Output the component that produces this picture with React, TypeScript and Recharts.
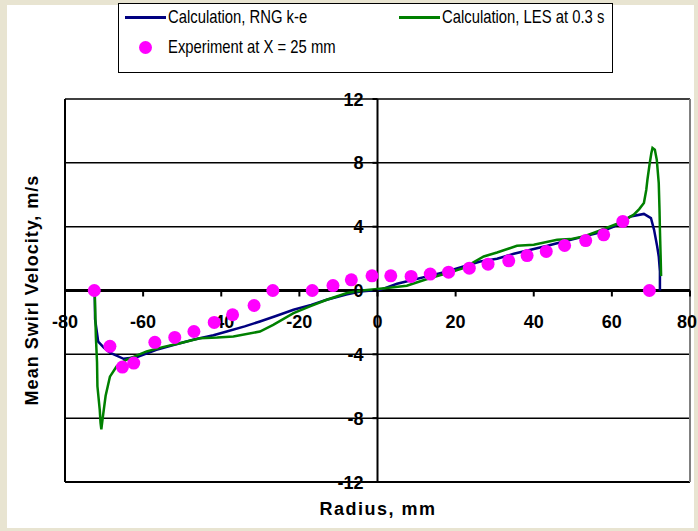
import React from 'react';
import { ComposedChart, Line, Scatter, XAxis, YAxis, ReferenceLine, ReferenceDot } from 'recharts';

// Calculation, RNG k-e
const rngRadius = [-72.4, -72.3, -71.5, -70, -68.5, -65, -61.7, -56.6, -52, -47.2, -42, -38.6, -34, -30.1, -26, -21.5, -17, -13, -8, -4.4, 0.7, 5, 9.2, 13.5, 17.8, 22, 26.3, 30.6, 34.9, 39.2, 43.5, 47.7, 52, 56.3, 60.5, 64.8, 68.2, 70, 70.8, 71.6, 72, 72.3, 72.3];
const rngVelocity = [0, -1.8, -3.2, -3.6, -3.9, -4.28, -4.18, -3.72, -3.4, -3.09, -2.8, -2.57, -2.25, -1.94, -1.6, -1.21, -0.9, -0.58, -0.25, -0.06, 0.04, 0.42, 0.67, 0.93, 1.19, 1.5, 1.82, 1.99, 2.3, 2.55, 2.8, 3.07, 3.33, 3.6, 4.01, 4.64, 4.8, 4.54, 3.8, 2.76, 2.13, 1.2, 0];

// Calculation, LES at 0.3 s
const lesRadius = [-72.4, -72.1, -71.8, -71.7, -71.1, -70.9, -70.7, -70.3, -69.6, -68.5, -66.8, -64.3, -59.1, -55, -50.6, -45.5, -41, -36.9, -30.1, -26.7, -21.5, -17.3, -13, -7.8, -4, 0, 5.8, 7.5, 10, 13.5, 18, 22, 27.2, 30.6, 35.7, 40, 46, 49.4, 53, 56.3, 62.2, 65.6, 67, 68.2, 68.8, 69.1, 69.7, 70.1, 70.4, 71, 71.5, 72, 72.2, 72.3, 72.5, 72.6];
const lesVelocity = [0, -2.9, -4.5, -6.0, -7.5, -8.3, -8.7, -7.9, -6.6, -5.4, -4.76, -4.34, -3.82, -3.55, -3.3, -2.99, -2.95, -2.88, -2.57, -2.15, -1.42, -1.0, -0.58, -0.16, 0, 0.1, 0.25, 0.3, 0.5, 0.78, 1.1, 1.4, 2.13, 2.38, 2.8, 2.87, 3.18, 3.22, 3.4, 3.7, 4.26, 4.75, 5.1, 5.48, 6.3, 6.94, 7.99, 8.6, 8.93, 8.82, 8.19, 6.73, 5, 3.8, 2, 0.9];

// Experiment at X = 25 mm
const expRadius = [-72.5, -68.5, -65.3, -62.4, -57, -51.9, -47, -41.8, -37.1, -31.6, -26.8, -16.7, -11.4, -6.7, -1.4, 3.4, 8.6, 13.5, 18.2, 23.5, 28.3, 33.6, 38.3, 43.2, 47.9, 53.3, 57.9, 62.8, 69.6];
const expVelocity = [0, -3.5, -4.8, -4.55, -3.25, -2.94, -2.57, -2.0, -1.52, -0.94, 0, 0, 0.31, 0.67, 0.92, 0.92, 0.88, 1.03, 1.15, 1.4, 1.65, 1.86, 2.19, 2.45, 2.82, 3.13, 3.49, 4.33, 0];

const xTicks = [-80, -60, -40, -20, 0, 20, 40, 60, 80];
const yTicks = [-12, -8, -4, 0, 4, 8, 12];
const gridValues = [-8, -4, 4, 8, 12];

const rngData = rngRadius.map((r, i) => ({ r, v: rngVelocity[i] }));
const lesData = lesRadius.map((r, i) => ({ r, v: lesVelocity[i] }));
const expData = expRadius.map((r, i) => ({ r, v: expVelocity[i] }));

const FONT = '"Liberation Sans", Arial, Helvetica, sans-serif';
const BLUE = '#000080';
const GREEN = '#008000';
const MAGENTA = '#FF00FF';

const xTickShape = (label: number, last: boolean) => (props: any) => {
  const { cx, cy } = props;
  return (
    <g>
      <line x1={cx} y1={cy} x2={cx} y2={cy + 6} stroke="#000" strokeWidth={2} />
      <text
        x={last ? cx + 7 : cx}
        y={cy + 37}
        textAnchor={last ? 'end' : 'middle'}
        fontFamily={FONT}
        fontWeight="bold"
        fontSize={18}
        fill="#000"
      >
        {label}
      </text>
    </g>
  );
};

const yTickShape = (label: number) => (props: any) => {
  const { cx, cy } = props;
  return (
    <g>
      <line x1={cx - 5} y1={cy} x2={cx} y2={cy} stroke="#000" strokeWidth={2} />
      <text x={cx - 14} y={cy + 6.5} textAnchor="end" fontFamily={FONT} fontWeight="bold" fontSize={18} fill="#000">
        {label}
      </text>
    </g>
  );
};

const dotShape = (props: any) => <circle cx={props.cx} cy={props.cy} r={6.5} fill={MAGENTA} />;

const legendText: React.CSSProperties = {
  position: 'absolute',
  lineHeight: '22px',
  whiteSpace: 'nowrap',
  transform: 'scaleX(0.78)',
  transformOrigin: 'left center',
};

export default function App() {
  return (
    <div style={{ position: 'absolute', left: 0, top: 0, width: 698, height: 531, background: '#e8e4d1', overflow: 'hidden' }}>
      <div style={{ position: 'absolute', left: 7, top: 5, width: 687, height: 523, background: '#ffffff' }} />
      <div style={{ position: 'absolute', left: 0, top: 0 }}>
        <ComposedChart width={698} height={531} margin={{ top: 99, right: 8, bottom: 49, left: 65 }}>
          <XAxis dataKey="r" type="number" domain={[-80, 80]} ticks={xTicks} hide allowDataOverflow />
          <YAxis type="number" domain={[-12, 12]} ticks={yTicks} hide allowDataOverflow />
          {gridValues.map((v) => (
            <ReferenceLine key={'g' + v} y={v} stroke="#000" strokeWidth={1.5} />
          ))}
          <ReferenceLine y={-12} stroke="#000" strokeWidth={2} />
          <ReferenceLine x={-80} stroke="#000" strokeWidth={2} />
          <ReferenceLine x={80} stroke="#808080" strokeWidth={2} />
          <ReferenceLine x={0} stroke="#000" strokeWidth={2} />
          <ReferenceLine y={0} stroke="#000" strokeWidth={3} />
          {xTicks.map((v, i) => (
            <ReferenceDot key={'xt' + v} x={v} y={0} r={0} shape={xTickShape(v, i === xTicks.length - 1)} />
          ))}
          {yTicks.map((v) => (
            <ReferenceDot key={'yt' + v} x={0} y={v} r={0} shape={yTickShape(v)} />
          ))}
          <Line data={rngData} dataKey="v" type="linear" stroke={BLUE} strokeWidth={2.5} dot={false} isAnimationActive={false} />
          <Line data={lesData} dataKey="v" type="linear" stroke={GREEN} strokeWidth={2.5} dot={false} isAnimationActive={false} />
          <Scatter data={expData} dataKey="v" fill={MAGENTA} shape={dotShape} isAnimationActive={false} />
        </ComposedChart>
      </div>
      <svg width={698} height={531} style={{ position: 'absolute', left: 0, top: 0, pointerEvents: 'none' }}>
        <text x={378} y={515} textAnchor="middle" fontFamily={FONT} fontWeight="bold" fontSize={18} letterSpacing={1.5} fill="#000">
          Radius, mm
        </text>
        <text x={38} y={290} transform="rotate(-90, 38, 290)" textAnchor="middle" fontFamily={FONT} fontWeight="bold" fontSize={18} letterSpacing={1} fill="#000">
          Mean Swirl Velocity, m/s
        </text>
      </svg>
      <div
        style={{
          position: 'absolute',
          left: 118,
          top: 3,
          width: 495,
          height: 70,
          border: '1px solid #000',
          background: '#fff',
          fontFamily: FONT,
          fontSize: 19,
          color: '#000',
          boxSizing: 'border-box',
        }}
      >
        <div style={{ position: 'absolute', left: 6, top: 12, width: 41, height: 3, background: BLUE }} />
        <div style={{ ...legendText, left: 49, top: 2 }}>Calculation, RNG k-e</div>
        <div style={{ position: 'absolute', left: 280, top: 12, width: 41, height: 3, background: GREEN }} />
        <div style={{ ...legendText, left: 323, top: 2 }}>Calculation, LES at 0.3 s</div>
        <div style={{ position: 'absolute', left: 20, top: 37, width: 13, height: 13, borderRadius: '50%', background: MAGENTA }} />
        <div style={{ ...legendText, left: 49, top: 32 }}>Experiment at X = 25 mm</div>
      </div>
    </div>
  );
}
